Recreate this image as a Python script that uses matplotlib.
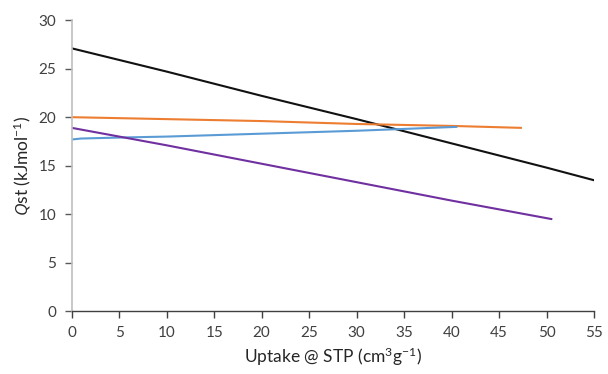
import matplotlib
matplotlib.use("Agg")
import matplotlib.pyplot as plt

plt.rcParams['font.family'] = ['Lato', 'DejaVu Sans']
plt.rcParams['mathtext.fontset'] = 'custom'
plt.rcParams['mathtext.rm'] = 'Lato'
plt.rcParams['mathtext.it'] = 'Open Sans:italic'

# data
black_x = [0, 10, 20, 30, 40, 50, 55]
black_y = [27.1, 24.7, 22.2, 19.8, 17.3, 14.8, 13.5]

orange_x = [0, 10, 20, 30, 40, 47.3]
orange_y = [20.0, 19.8, 19.6, 19.3, 19.1, 18.9]

blue_x = [0, 1, 5, 10, 20, 30, 40.5]
blue_y = [17.7, 17.8, 17.9, 18.0, 18.3, 18.6, 19.0]

purple_x = [0, 10, 20, 30, 40, 50.5]
purple_y = [18.9, 17.1, 15.2, 13.3, 11.4, 9.5]

xticks = list(range(0, 56, 5))
yticks = list(range(0, 31, 5))

fig = plt.figure(figsize=(6.08, 3.74), dpi=100)
ax = fig.add_axes([0.118, 0.168, 0.859, 0.778])

ax.plot(black_x, black_y, color='#111111', lw=1.5)
ax.plot(orange_x, orange_y, color='#ED7D31', lw=1.5)
ax.plot(blue_x, blue_y, color='#5B9BD5', lw=1.5)
ax.plot(purple_x, purple_y, color='#7030A0', lw=1.5)

ax.set_xlim(0, 55)
ax.set_ylim(0, 30)
ax.set_xticks(xticks)
ax.set_yticks(yticks)

for s in ['top', 'right']:
    ax.spines[s].set_visible(False)
ax.spines['left'].set_color('#BFBFBF')
ax.spines['left'].set_linewidth(1.2)
ax.spines['bottom'].set_color('#404040')
ax.spines['bottom'].set_linewidth(1.0)
ax.tick_params(axis='y', colors='#595959', length=5, width=1, labelsize=11, pad=6)
ax.tick_params(axis='x', colors='#404040', length=5, width=1, labelsize=11, pad=6)
for lab in ax.get_xticklabels() + ax.get_yticklabels():
    lab.set_color('#404040')

ax.set_xlabel(r"Uptake @ STP (cm$^{3}$g$^{-1}$)", fontsize=12.5, color='#262626')
ax.set_ylabel(r"$\mathit{Q}$st (kJmol$^{-1}$)", fontsize=12.5, color='#262626')

fig.savefig("out.png", dpi=100)
